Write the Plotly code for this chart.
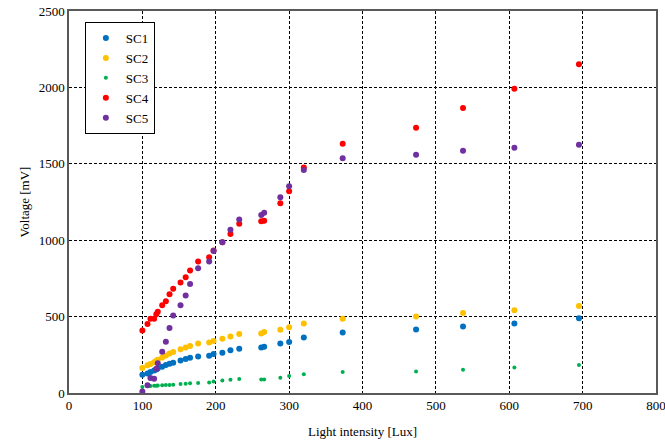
import plotly.graph_objects as go

lux = [100, 107, 111, 116, 119, 121, 127, 132, 137, 142, 152, 159, 165, 176, 191, 197,
       209, 220, 232, 262, 266, 288, 300, 320, 373, 473, 537, 607, 695]

sc1 = [120, 128, 137, 148, 154, 161, 172, 183, 191, 198, 213, 222, 231, 239, 244, 255,
       263, 279, 290, 298, 303, 324, 333, 363, 396, 416, 435, 455, 490]
sc2 = [163, 181, 189, 202, 211, 218, 233, 246, 259, 268, 287, 298, 307, 324, 331, 340,
       355, 370, 386, 390, 399, 414, 431, 455, 486, 501, 523, 542, 569]
sc3 = [39, 44, 46, 47, 48, 49, 50, 52, 53, 54, 59, 61, 63, 65, 69, 76,
       82, 87, 91, 89, 89, 100, 111, 122, 137, 141, 152, 167, 183]
sc4 = [409, 451, 486, 486, 516, 531, 575, 601, 647, 682, 723, 758, 801, 860, 889, 932,
       987, 1041, 1108, 1124, 1128, 1242, 1320, 1475, 1631, 1736, 1865, 1991, 2152]
sc5 = [10, 50, 98, 94, 159, 194, 270, 335, 426, 508, 574, 638, 714, 816, 861, 929,
       987, 1069, 1135, 1165, 1180, 1281, 1353, 1460, 1536, 1559, 1586, 1605, 1625]

names = ["SC1", "SC2", "SC3", "SC4", "SC5"]
series = [sc1, sc2, sc3, sc4, sc5]
colors = ["#0070C0", "#FFC000", "#00B050", "#FF0000", "#7030A0"]
sizes = [6, 6, 4, 6, 6]

fig = go.Figure()
for n, s, c, sz in zip(names, series, colors, sizes):
    fig.add_trace(go.Scatter(x=lux, y=s, mode="markers", name=n,
                             marker=dict(color=c, size=sz, line=dict(width=0))))

font = "Liberation Serif"
axis_common = dict(
    showline=True, linecolor="#595959", linewidth=1.5, mirror=True,
    showgrid=True, gridcolor="#000000", gridwidth=1, griddash="3px,2px",
    zeroline=False, ticks="", automargin=False, ticklabeloverflow="allow",
    tickfont=dict(family=font, size=13, color="#000000"),
)
fig.update_xaxes(range=[0, 800], dtick=100, tick0=0,
                 title=dict(text="Light intensity [Lux]", font=dict(family=font, size=13, color="#000000")),
                 **axis_common)
fig.update_yaxes(range=[0, 2500], dtick=500, tick0=0,
                 title=dict(text="Voltage [mV]", font=dict(family=font, size=13, color="#000000"),
                            standoff=6),
                 **axis_common)

fig.update_layout(
    width=665, height=442,
    margin=dict(l=69, r=9, t=11, b=49),
    paper_bgcolor="white", plot_bgcolor="white",
    font=dict(family=font, size=13, color="#000000"),
    legend=dict(x=0.027, y=0.971, xanchor="left", yanchor="top",
                bgcolor="white", bordercolor="#000000", borderwidth=1,
                font=dict(family=font, size=13, color="#000000"),
                itemwidth=30, tracegroupgap=0),
    showlegend=True,
)

fig.write_html("out.html", config={"displayModeBar": False},
               post_script="document.body.style.margin='0';document.body.style.overflow='hidden';")
